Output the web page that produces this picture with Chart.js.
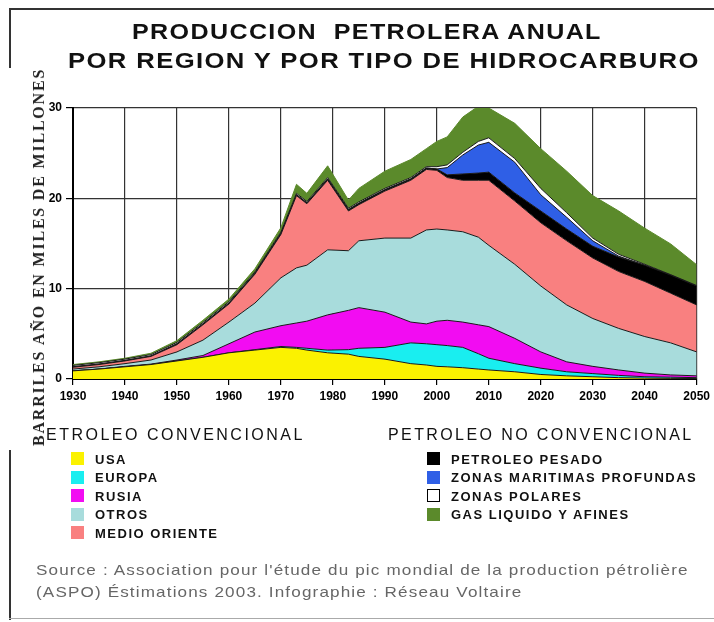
<!DOCTYPE html>
<html>
<head>
<meta charset="utf-8">
<script src="https://cdn.jsdelivr.net/npm/chart.js@4.4.1/dist/chart.umd.min.js"></script>
<style>
  html, body { margin: 0; padding: 0; background: #fff; }
  #wrap { position: relative; width: 714px; height: 622px; overflow: hidden; font-family: Arial, "Liberation Sans", sans-serif; }
  #chart { position: absolute; left: 0; top: 0; }
  .t { position: absolute; white-space: pre; line-height: 1; transform-origin: 0 50%; }
  .title { font-weight: bold; font-size: 22px; letter-spacing: 1.2px; color: #111; }
  .grp { font-size: 16px; color: #111; }
  .lab { font-size: 13px; font-weight: bold; letter-spacing: 1.5px; color: #111; }
  .sw { position: absolute; width: 13px; height: 13px; }
  .src { font-size: 15px; color: #666; letter-spacing: 1px; transform: scaleX(1.14); }
  .ylab { font-family: "Liberation Serif", "DejaVu Serif", serif; font-weight: bold; font-size: 16px; color: #222; letter-spacing: 1.8px;
          left: 39px; top: 257px; transform-origin: 50% 50%; transform: translate(-50%, -50%) rotate(-90deg); }
  .line { position: absolute; background: #333; }
</style>
</head>
<body>
<div id="wrap">
  <canvas id="chart" width="714" height="622"></canvas>

  <div class="line" style="left:9px; top:8px; width:705px; height:2px;"></div>
  <div class="line" style="left:9px; top:8px; width:2px; height:60px;"></div>
  <div class="line" style="left:9px; top:450px; width:2px; height:170px;"></div>
  <div class="line" style="left:9px; top:618px; width:705px; height:1px; background:#aaa;"></div>

  <div class="t title" style="left:132px; top:21px; transform: scaleX(1.14);">PRODUCCION  PETROLERA ANUAL</div>
  <div class="t title" style="left:68px; top:50px; transform: scaleX(1.165);">POR REGION Y POR TIPO DE HIDROCARBURO</div>

  <div class="t ylab">BARRILES AÑO EN MILES DE MILLONES</div>

  <div class="t grp" style="left:46px; top:427px; letter-spacing: 2.5px;">ETROLEO CONVENCIONAL</div>
  <div class="t grp" style="left:388px; top:427px; letter-spacing: 2.4px;">PETROLEO NO CONVENCIONAL</div>

  <div id="legLeft"></div>
  <div id="legRight"></div>

  <div class="t src" style="left:36px; top:562px;">Source : Association pour l'étude du pic mondial de la production pétrolière</div>
  <div class="t src" style="left:36px; top:584px;">(ASPO) Éstimations 2003. Infographie : Réseau Voltaire</div>
</div>

<script>
// years of the readings (x axis)
const years = [1930, 1935, 1940, 1945, 1950, 1955, 1960, 1965, 1970, 1973, 1975, 1979, 1983, 1985, 1990,
               1995, 1998, 2000, 2002, 2005, 2008, 2010, 2015, 2020, 2025, 2030, 2035, 2040, 2045, 2050];

// petroleo convencional (miles de millones de barriles / año)
const usa          = [0.9, 1.1, 1.35, 1.6, 2.0, 2.4, 2.9, 3.2, 3.5, 3.4, 3.2, 2.9, 2.75, 2.5, 2.2,
                      1.7, 1.55, 1.4, 1.35, 1.25, 1.1, 1.0, 0.8, 0.5, 0.35, 0.25, 0.15, 0.1, 0.07, 0.05];
const europa       = [0, 0, 0, 0, 0, 0, 0, 0.05, 0.1, 0.1, 0.2, 0.3, 0.5, 0.9, 1.3,
                      2.3, 2.35, 2.4, 2.35, 2.25, 1.7, 1.3, 0.9, 0.7, 0.45, 0.35, 0.25, 0.15, 0.13, 0.1];
const rusia        = [0, 0, 0.05, 0.05, 0.1, 0.2, 1.0, 1.95, 2.3, 2.7, 3.0, 3.9, 4.35, 4.5, 3.9,
                      2.3, 2.2, 2.6, 2.8, 2.8, 3.2, 3.5, 2.8, 1.8, 1.1, 0.8, 0.6, 0.4, 0.25, 0.2];
const otros        = [0.2, 0.25, 0.3, 0.45, 0.9, 1.7, 2.4, 3.2, 5.3, 6.1, 6.2, 7.2, 6.6, 7.4, 8.2,
                      9.3, 10.4, 10.2, 10.0, 10.0, 9.7, 9.0, 8.2, 7.3, 6.3, 5.3, 4.6, 4.05, 3.55, 2.65];
const medioOriente = [0.2, 0.25, 0.3, 0.4, 0.8, 1.7, 2.0, 3.2, 4.8, 8.0, 6.8, 7.7, 4.4, 4.0, 5.2,
                      6.4, 6.7, 6.5, 5.8, 5.7, 6.3, 7.2, 7.0, 7.0, 7.1, 6.7, 6.3, 6.1, 5.5, 5.2];

// petroleo no convencional
const pesado       = [0.05, 0.05, 0.05, 0.05, 0.1, 0.1, 0.1, 0.1, 0.1, 0.1, 0.1, 0.15, 0.15, 0.15, 0.15,
                      0.15, 0.15, 0.15, 0.3, 0.7, 0.8, 0.9, 0.9, 1.3, 1.3, 1.3, 1.6, 1.8, 2.0, 2.1];
const profundas    = [0, 0, 0, 0, 0, 0, 0, 0, 0, 0, 0, 0, 0, 0, 0,
                      0, 0, 0, 0.8, 2.1, 3.1, 3.3, 3.4, 1.8, 1.3, 0.6, 0.1, 0, 0, 0];
const polares      = [0.15, 0.15, 0.15, 0.15, 0.15, 0.15, 0.15, 0.15, 0.15, 0.15, 0.15, 0.15, 0.15, 0.15, 0.15,
                      0.15, 0.15, 0.25, 0.3, 0.3, 0.4, 0.5, 0.4, 0.7, 0.5, 0.3, 0.2, 0.1, 0.05, 0.05];
const gasLiquido   = [0.1, 0.1, 0.1, 0.15, 0.2, 0.25, 0.3, 0.35, 0.5, 1.0, 0.9, 1.3, 0.9, 1.5, 1.9,
                      2.0, 2.0, 2.8, 3.1, 3.9, 3.9, 3.3, 3.9, 4.4, 4.6, 4.7, 4.8, 4.0, 3.4, 2.3];

const yTicks = [0, 10, 20, 30];

const series = [
    { label: "USA",           data: usa,          color: "#fbf200", group: "left" },
    { label: "EUROPA",        data: europa,       color: "#19eef0", group: "left" },
    { label: "RUSIA",         data: rusia,        color: "#f20cf2", group: "left" },
    { label: "OTROS",         data: otros,        color: "#a8dcdc", group: "left" },
    { label: "MEDIO ORIENTE", data: medioOriente, color: "#f98080", group: "left" },
    { label: "PETROLEO PESADO",           data: pesado,     color: "#000000", group: "right" },
    { label: "ZONAS MARITIMAS PROFUNDAS", data: profundas,  color: "#2f5fe6", group: "right" },
    { label: "ZONAS POLARES",             data: polares,    color: "#ffffff", group: "right" },
    { label: "GAS LIQUIDO Y AFINES",      data: gasLiquido, color: "#5b8a2b", group: "right" }
];

const datasets = series.map(function (s, i) {
    return {
        label: s.label,
        data: s.data.map((v, k) => ({ x: years[k], y: v })),
        backgroundColor: s.color,
        borderColor: i === series.length - 1 ? s.color : "#1a1a1a",
        borderWidth: 1,
        fill: i === 0 ? "origin" : "-1",
        pointRadius: 0,
        tension: 0
    };
});

new Chart(document.getElementById("chart"), {
    type: "line",
    data: { datasets: datasets },
    options: {
        responsive: false,
        animation: false,
        layout: { padding: { left: 0, top: 108, right: 17, bottom: 622 - 379 - 30 } },
        plugins: { legend: { display: false }, tooltip: { enabled: false } },
        scales: {
            x: {
                type: "linear", min: 1930, max: 2050,
                afterFit: s => { s.height = 30; },
                ticks: { stepSize: 10, autoSkip: false, maxRotation: 0, padding: 4, color: "#000",
                         font: { family: "Arial", weight: "bold", size: 12 },
                         callback: v => String(v) },
                grid: { color: "#333", lineWidth: 1.2, tickLength: 6, tickColor: "#000" },
                border: { color: "#000", width: 2 }
            },
            y: {
                stacked: true, min: 0, max: 30,
                afterFit: s => { s.width = 73; },
                afterBuildTicks: s => { s.ticks = yTicks.map(v => ({ value: v })); },
                ticks: { padding: 4, color: "#000", font: { family: "Arial", weight: "bold", size: 12 } },
                grid: { color: "#333", lineWidth: 1.2, tickLength: 7, tickColor: "#000" },
                border: { color: "#000", width: 2 }
            }
        }
    }
});

// legend built from the series list
function addLegend(id, group, left, labLeft, top) {
    let box = document.getElementById(id);
    series.filter(s => s.group === group).forEach(function (s, i) {
        let y = top + i * 18.5;
        let sw = document.createElement("div");
        sw.className = "sw";
        sw.style.left = left + "px";
        sw.style.top = y + "px";
        sw.style.background = s.color;
        if (s.color === "#ffffff") {
            sw.style.border = "1px solid #000";
            sw.style.width = "11px";
            sw.style.height = "11px";
        }
        box.appendChild(sw);
        let t = document.createElement("div");
        t.className = "t lab";
        t.style.left = labLeft + "px";
        t.style.top = (y + 0.5) + "px";
        t.textContent = s.label;
        box.appendChild(t);
    });
}
addLegend("legLeft", "left", 71, 95, 452);
addLegend("legRight", "right", 427, 451, 452);
</script>
</body>
</html>
